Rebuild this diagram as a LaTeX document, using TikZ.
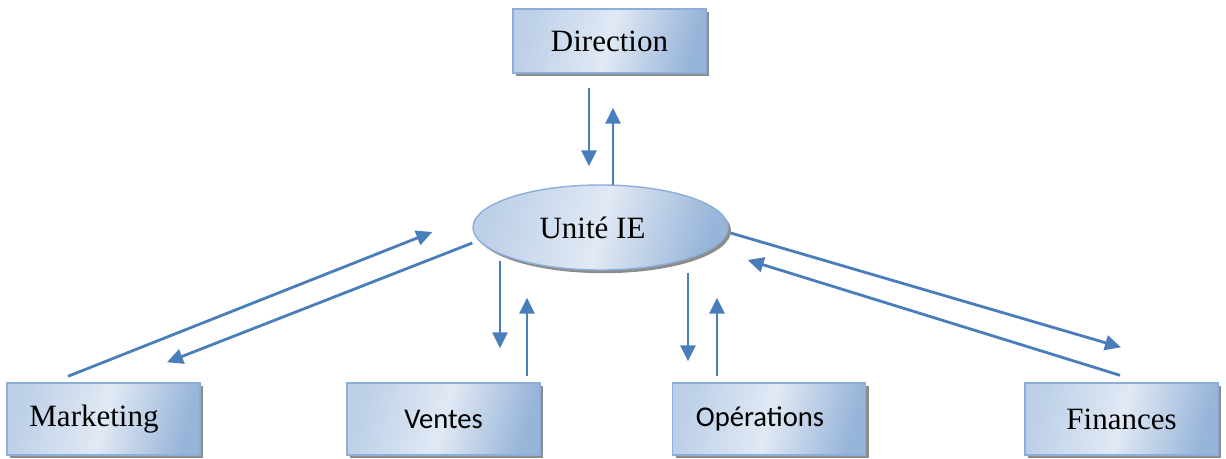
\documentclass[tikz,border=0pt]{standalone}
\usepackage{fontspec}
\setmainfont{Liberation Serif}
\newfontfamily\calibrifont{Carlito}
\usetikzlibrary{shapes.geometric,arrows.meta,shadows}
\definecolor{arrowblue}{HTML}{4A7EBB}
\definecolor{edgeblue}{HTML}{8DAED8}
\definecolor{fillA}{HTML}{BDD0E8}
\definecolor{fillB}{HTML}{E1E9F4}
\definecolor{fillC}{HTML}{97B4D9}
\begin{document}
\begin{tikzpicture}[x=0.5pt,y=-0.5pt,
  shadowed/.style={drop shadow={shadow xshift=1.5pt,shadow yshift=-1.6pt,fill=black!50,opacity=0.9}},
  gradient/.style={left color=fillA, right color=fillC, middle color=fillB, shading angle=75},
  unitbox/.style={rectangle, draw=edgeblue, line width=0.7pt, inner sep=0pt,
    gradient, shadowed, minimum width=96.5pt, minimum height=36pt},
  serif/.style={font=\fontsize{15.5}{18}\selectfont},
  sans/.style={font=\calibrifont\fontsize{14.3}{17}\selectfont},
  flow/.style={draw=arrowblue, line width=1.4pt, -{Triangle[length=8pt,width=7.5pt]}}
]
\useasboundingbox (0,0) rectangle (1226,459);

% organisation units
\node[unitbox, serif, minimum height=32pt] (dir) at (609.5,41) {Direction};
\node[ellipse, draw=edgeblue, line width=0.7pt, inner sep=0pt, gradient, shadowed,
      minimum width=127.5pt, minimum height=42.5pt, serif] (ie) at (600.5,227.5) {Unité IE\hspace*{8pt}};
\node[unitbox, serif] (mkt) at (103.5,419) {Marketing\hspace*{9.5pt}};
\node[unitbox, sans]  (ven) at (443.5,419) {Ventes};
\node[unitbox, sans]  (ops) at (769,419)   {Opérations\hspace*{9pt}};
\node[unitbox, serif] (fin) at (1121.5,419) {Finances};

% exchanges between the IE unit and the management
\draw[flow] ([shift={(-20.5,14)}]dir.south) -- ([shift={(-11.5,-18)}]ie.north);
\draw[flow] ([shift={(12.5,1)}]ie.north) -- ([shift={(3.5,34)}]dir.south);

% exchanges with marketing
\draw[flow] ([shift={(-35.5,-6)}]mkt.north) -- ([shift={(-40,4.5)}]ie.west);
\draw[flow] ([shift={(0,15.5)}]ie.west) -- ([shift={(63.5,-20)}]mkt.north);

% exchanges with sales
\draw[flow] ([shift={(-100.5,-10)}]ie.south) -- ([shift={(56.5,-34)}]ven.north);
\draw[flow] ([shift={(83.5,-6)}]ven.north) -- ([shift={(-73.5,27)}]ie.south);

% exchanges with operations
\draw[flow] ([shift={(87.5,2)}]ie.south) -- ([shift={(-81,-21)}]ops.north);
\draw[flow] ([shift={(-52,-6)}]ops.north) -- ([shift={(116.5,27)}]ie.south);

% exchanges with finance
\draw[flow] ([shift={(2,5.5)}]ie.east) -- ([shift={(-0.5,-35)}]fin.north);
\draw[flow] ([shift={(-1.5,-7)}]fin.north) -- ([shift={(19,32.5)}]ie.east);
\end{tikzpicture}
\end{document}
